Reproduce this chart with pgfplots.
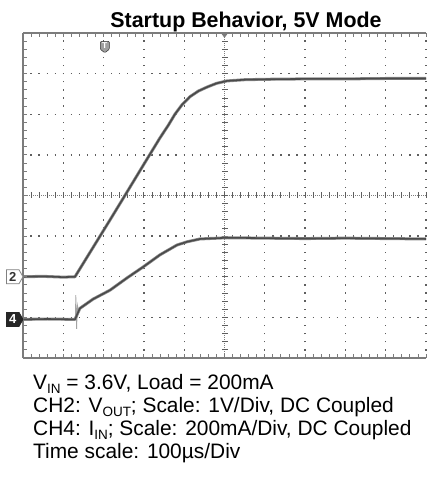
\documentclass[border=0pt]{standalone}
\usepackage{pgfplots}
\pgfplotsset{compat=1.18}
\usepackage{fontspec}
\setmainfont{Liberation Sans}
\definecolor{trace}{HTML}{4A4A4A}
\definecolor{tracelt}{HTML}{8C8C8C}
\definecolor{gridc}{HTML}{5E5E5E}
\definecolor{bordc}{HTML}{7C7C7C}
\newcommand{\sub}[1]{\raisebox{-0.16em}{\fontsize{13.5bp}{13.5bp}\selectfont #1}}
\begin{document}
\begin{tikzpicture}[x=1bp,y=1bp]
\useasboundingbox (0,0) rectangle (426,481);
\begin{axis}[at={(23bp,123bp)}, anchor=south west,
  width=403bp, height=325bp, scale only axis,
  xmin=0, xmax=10, ymin=0, ymax=8,
  axis line style={draw=none}, ticks=none, clip=false]
% dotted grid, vertical lines
\pgfplotsinvokeforeach{1,2,3,4,6,7,8,9,10}{
  \draw[gridc, line width=1.3bp, dash pattern=on 1.3bp off 6.825bp, dash phase=0.65bp]
    (axis cs:#1,0) -- (axis cs:#1,8);}
% dotted grid, horizontal lines
\pgfplotsinvokeforeach{1,2,3,5,6,7}{
  \draw[gridc, line width=1.3bp, dash pattern=on 1.3bp off 6.76bp, dash phase=0.65bp]
    (axis cs:0,#1) -- (axis cs:10,#1);}
% centre cross
\draw[gridc!80, line width=0.8bp, dash pattern=on 1bp off 1bp] (axis cs:0,4) -- (axis cs:10,4);
\draw[gridc!80, line width=0.8bp, dash pattern=on 1bp off 1bp] (axis cs:5,0) -- (axis cs:5,8);
\draw[gridc, line width=6bp, dash pattern=on 0.9bp off 7.16bp, dash phase=0.45bp] (axis cs:0,4) -- (axis cs:10,4);
\draw[gridc, line width=6bp, dash pattern=on 0.9bp off 7.225bp, dash phase=0.45bp] (axis cs:5,0) -- (axis cs:5,8);
% traces
\addplot[tracelt, line width=3bp, line join=round] coordinates {
(0,2.00) (0.5,2.01) (1.0,1.99) (1.29,2.0) (2.16,3.40) (2.48,3.92) (3.0,4.77) (3.40,5.42) (3.60,5.72) (3.77,6.0) (3.95,6.24) (4.14,6.43) (4.35,6.57) (4.57,6.67) (4.8,6.76) (5.06,6.82) (5.5,6.85) (6,6.86) (7,6.87) (8,6.87) (9,6.88) (10,6.88)};
\addplot[trace, line width=1.6bp, line join=round] coordinates {
(0,2.00) (0.5,2.01) (1.0,1.99) (1.29,2.0) (2.16,3.40) (2.48,3.92) (3.0,4.77) (3.40,5.42) (3.60,5.72) (3.77,6.0) (3.95,6.24) (4.14,6.43) (4.35,6.57) (4.57,6.67) (4.8,6.76) (5.06,6.82) (5.5,6.85) (6,6.86) (7,6.87) (8,6.87) (9,6.88) (10,6.88)};
\addplot[tracelt!80, line width=0.8bp] coordinates {(1.30,0.95) (1.31,1.55) (1.33,0.72) (1.35,1.30) (1.38,1.15)};
\addplot[tracelt, line width=3bp, line join=round] coordinates {
(0,0.95) (0.6,0.96) (1.29,0.95) (1.41,1.22) (1.74,1.45) (2.16,1.67) (2.58,1.97) (2.98,2.24) (3.40,2.54) (3.82,2.78) (4.07,2.86) (4.39,2.93) (5.06,2.96) (6,2.95) (7,2.94) (8,2.95) (9,2.94) (10,2.93)};
\addplot[trace, line width=1.6bp, line join=round] coordinates {
(0,0.95) (0.6,0.96) (1.29,0.95) (1.41,1.22) (1.74,1.45) (2.16,1.67) (2.58,1.97) (2.98,2.24) (3.40,2.54) (3.82,2.78) (4.07,2.86) (4.39,2.93) (5.06,2.96) (6,2.95) (7,2.94) (8,2.95) (9,2.94) (10,2.93)};
% borders with ticks
\draw[bordc, line width=1.6bp] (axis cs:0,8) -- (axis cs:10,8);
\draw[bordc, line width=1.6bp] (axis cs:0,0) -- (axis cs:10,0);
\draw[bordc, line width=2.4bp] (axis cs:0,0) -- (axis cs:0,8);
\draw[bordc, line width=4bp, dash pattern=on 0.9bp off 7.16bp, dash phase=0.45bp] ([yshift=-2bp]axis cs:0,8) -- ([yshift=-2bp]axis cs:10,8);
\draw[bordc, line width=4bp, dash pattern=on 0.9bp off 7.16bp, dash phase=0.45bp] ([yshift=2bp]axis cs:0,0) -- ([yshift=2bp]axis cs:10,0);
\draw[bordc, line width=4bp, dash pattern=on 0.9bp off 7.225bp, dash phase=0.45bp] ([xshift=2bp]axis cs:0,0) -- ([xshift=2bp]axis cs:0,8);
\fill[bordc] ([xshift=-3.5bp]axis cs:5,8) -- ([xshift=3.5bp]axis cs:5,8) -- ([yshift=-5bp]axis cs:5,8) -- cycle;
\coordinate (T) at (axis cs:2.03,7.66);
\coordinate (c2) at (axis cs:0,2.0);
\coordinate (c4) at (axis cs:0,0.95);
\end{axis}
% trigger marker
\begin{scope}[shift={(T)}]
\filldraw[fill=gray!75, draw=gray!40!black, line width=0.5bp, rounded corners=1bp] (-4.5,5.5) -- (4.5,5.5) -- (4.5,-2.5) -- (0,-6) -- (-4.5,-2.5) -- cycle;
\node[white, font=\bfseries\fontsize{8.5bp}{8.5bp}\selectfont, inner sep=0pt] at (0,0.8) {T};
\end{scope}
% channel markers
\begin{scope}[shift={(c2)}]
\filldraw[fill=white, draw=gray, line width=0.8bp] (-16.5,7) -- (-4,7) -- (0,0) -- (-4,-7) -- (-16.5,-7) -- cycle;
\node[font=\bfseries\fontsize{13bp}{13bp}\selectfont, text=black!80, inner sep=0pt] at (-10.3,0) {2};
\end{scope}
\begin{scope}[shift={(c4)}]
\filldraw[fill=black!85, draw=black!85, line width=0.8bp] (-16.5,7) -- (-4,7) -- (0,0) -- (-4,-7) -- (-16.5,-7) -- cycle;
\node[font=\bfseries\fontsize{13bp}{13bp}\selectfont, text=white, inner sep=0pt] at (-10.3,0) {4};
\end{scope}
% title
\node[anchor=base, inner sep=0pt, font=\bfseries\fontsize{21.4bp}{21.4bp}\selectfont] at (246,453) {Startup Behavior, 5V Mode};
% notes
\begin{scope}[every node/.style={anchor=base west, inner sep=0pt, font=\fontsize{20.9bp}{20.9bp}\selectfont}]
\node at (33,91) {V\sub{IN} = 3.6V, Load = 200mA};
\node at (33,68) {CH2: V\sub{OUT}; Scale: 1V/Div, DC Coupled};
\node at (33,45) {CH4: I\sub{IN}; Scale: 200mA/Div, DC Coupled};
\node at (33,22) {Time scale: 100µs/Div};
\end{scope}
\end{tikzpicture}
\end{document}
